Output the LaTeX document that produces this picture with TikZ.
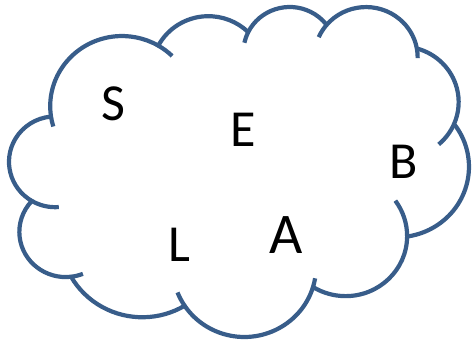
\documentclass[tikz,border=0pt]{standalone}
\usepackage{fontspec}
\setmainfont{Carlito}
\usepackage{xcolor}
\usepackage{tikz}
\definecolor{cloudblue}{HTML}{385D8A}

\begin{document}
\begin{tikzpicture}[x=1pt,y=-1pt,
  cloudline/.style={draw=cloudblue, line width=4.2pt, line join=round},
  letter/.style={font=\fontsize{52}{62}\selectfont, inner sep=0pt},
  bigletter/.style={font=\fontsize{57.5}{68}\selectfont}]
% nuvola con le lettere sparse
\useasboundingbox (0,0) rectangle (472,343);

\draw[cloudline] (50.87,115.67) coordinate (j1)
  arc[start angle=-187.75, end angle=-59.64, x radius=71.81, y radius=70.18] coordinate (j2)
  arc[start angle=-152.04, end angle=-45.44, x radius=56.71, y radius=55.50] coordinate (j3)
  arc[start angle=-153.49, end angle=-37.35, x radius=46.42, y radius=45.40] coordinate (j4)
  arc[start angle=-139.71, end angle=-10.21, x radius=51.65, y radius=50.37] coordinate (j5)
  arc[start angle=-74.77, end angle=23.21, x radius=56.71, y radius=55.54] coordinate (j6)
  arc[start angle=-37.50, end angle=81.86, x radius=72.05, y radius=70.41] coordinate (j7)
  arc[start angle=0.46, end angle=121.98, x radius=61.52, y radius=60.08] coordinate (j8)
  arc[start angle=16.85, end angle=146.22, x radius=71.80, y radius=70.37] coordinate (j9)
  arc[start angle=58.98, end angle=150.20, x radius=82.09, y radius=80.52] coordinate (j10)
  arc[start angle=83.31, end angle=223.11, x radius=46.36, y radius=45.20] coordinate (j11)
  arc[start angle=120.35, end angle=264.11, x radius=46.20, y radius=45.40] -- cycle;

% ganci interni
\draw[cloudline] (j1) arc[start angle=-187.75, end angle=-196.81, x radius=71.81, y radius=70.18];
\draw[cloudline] (j2) arc[start angle=-59.64, end angle=-45.73, x radius=71.81, y radius=70.18];
\draw[cloudline] (j3) arc[start angle=-153.49, end angle=-167.73, x radius=46.42, y radius=45.40];
\draw[cloudline] (j4) arc[start angle=-139.71, end angle=-156.28, x radius=51.65, y radius=50.37];
\draw[cloudline] (j5) arc[start angle=-10.21, end angle=0.82, x radius=51.65, y radius=50.37];
\draw[cloudline] (j6) arc[start angle=23.21, end angle=49.64, x radius=56.71, y radius=55.54];
\draw[cloudline] (j7) arc[start angle=0.46, end angle=-36.07, x radius=61.52, y radius=60.08];
\draw[cloudline] (j8) arc[start angle=16.85, end angle=9.56, x radius=71.80, y radius=70.37];
\draw[cloudline] (j9) arc[start angle=146.22, end angle=158.47, x radius=71.80, y radius=70.37];
\draw[cloudline] (j10) arc[start angle=83.31, end angle=68.24, x radius=46.36, y radius=45.20];
\draw[cloudline] (j11) arc[start angle=120.35, end angle=85.55, x radius=46.20, y radius=45.40];

\node[letter] (S) at (113.3,104.2) {S};
\node[letter] (E) at (243.0,129.7) {E};
\node[letter] (B) at (403.8,161.7) {B};
\node[letter] (L) at (179.8,245.3) {L};
\node[letter,bigletter] (A) at (285.8,235.3) {A};
\end{tikzpicture}
\end{document}
